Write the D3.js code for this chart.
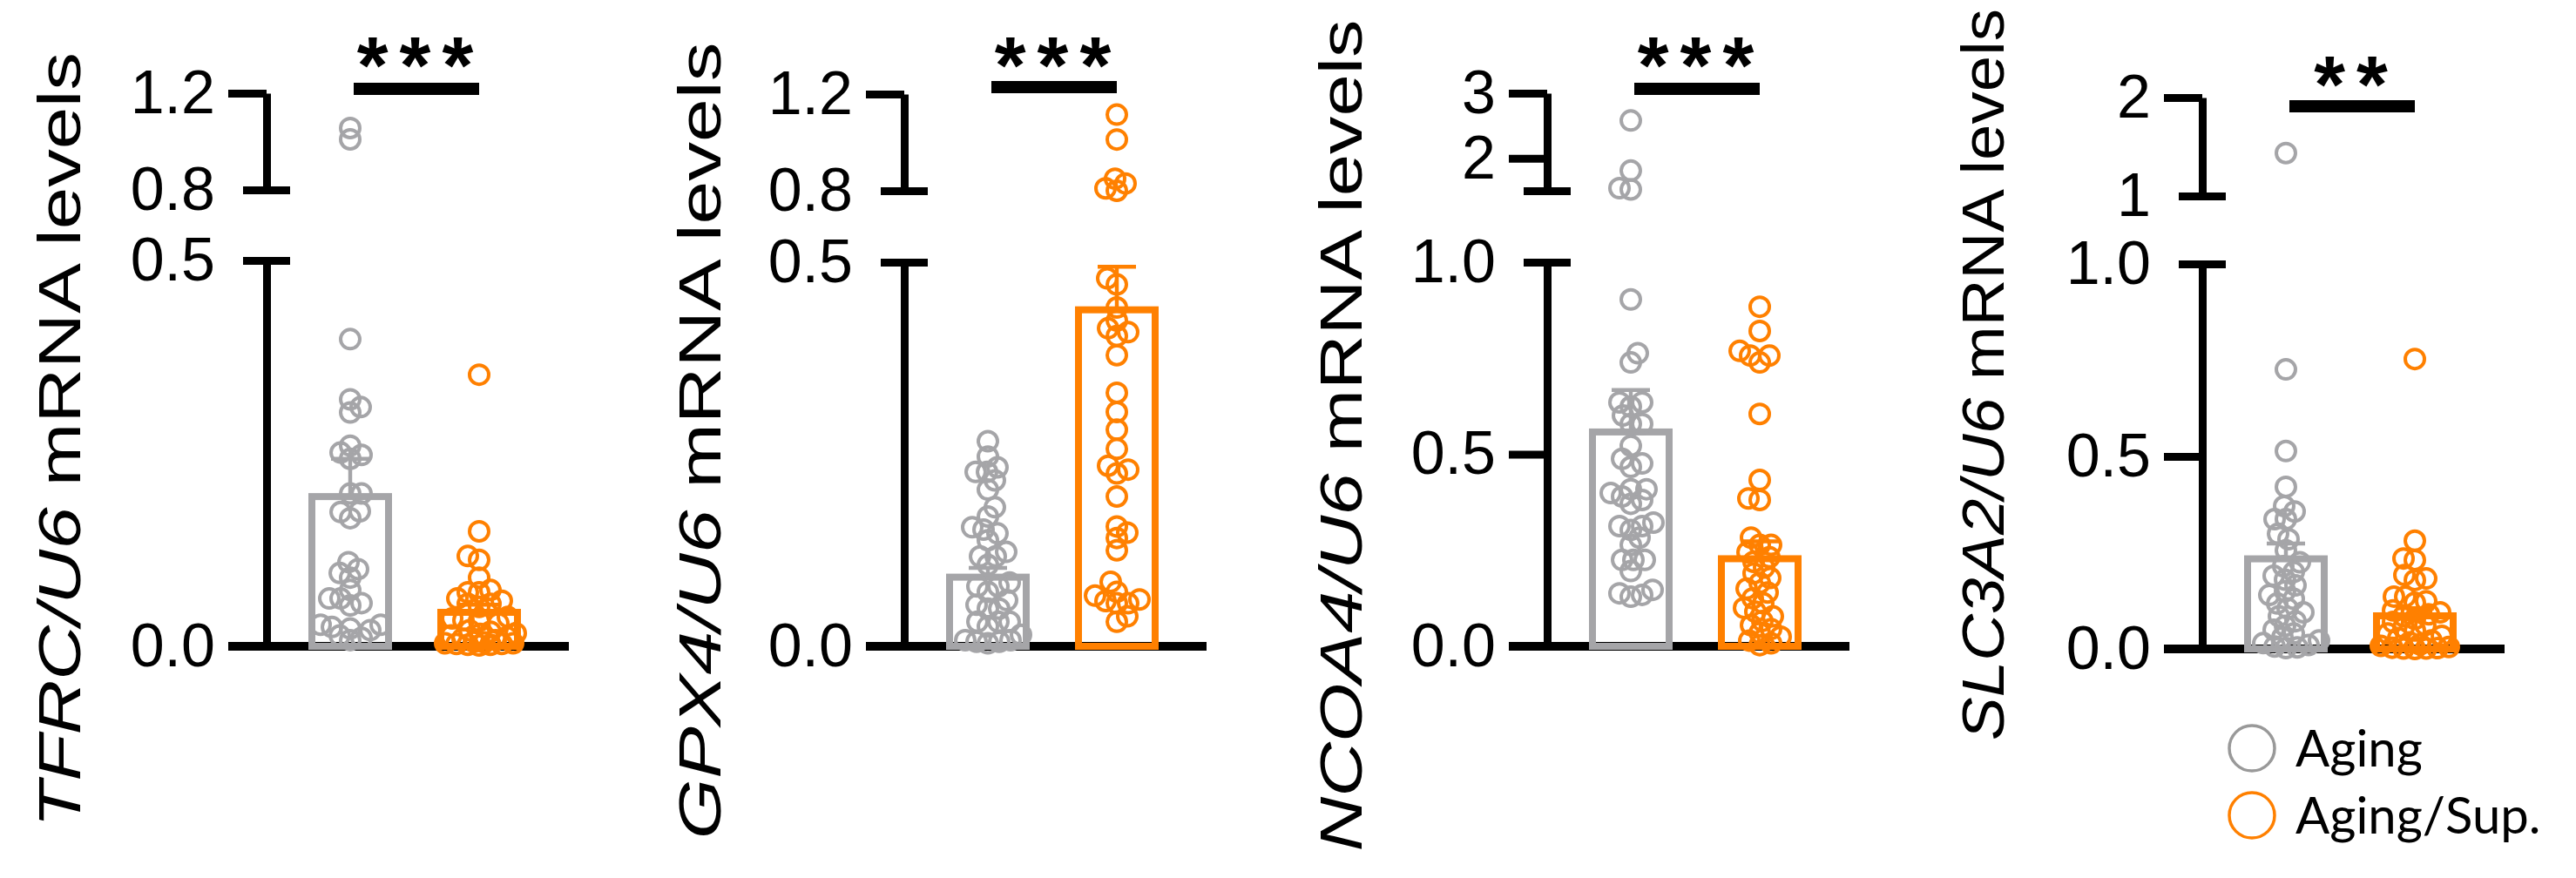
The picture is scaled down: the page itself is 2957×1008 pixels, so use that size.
<!DOCTYPE html>
<html>
<head>
<meta charset="utf-8">
<script src="https://cdn.jsdelivr.net/npm/d3@7"></script>
<style>
  body { margin: 0; background: #fff; }
  svg { display: block; }
</style>
</head>
<body>
<script>
// groups and genes
var groups = ["Aging", "Aging/Sup."];
var genes = ["TFRC", "GPX4", "NCOA4", "SLC3A2"];
var stars = ["***", "***", "***", "**"];

// individual points
var agingTFRC = [1.056, 1.009, 0.398, 0.320, 0.310, 0.303, 0.260, 0.248, 0.251, 0.243, 0.198, 0.198, 0.174, 0.175, 0.166,
  0.109, 0.100, 0.095, 0.089, 0.073, 0.062, 0.056, 0.062, 0.053, 0.025, 0.021, 0.028, 0.023, 0.028, 0.014, 0.011, 0.008];
var supTFRC = [0.352, 0.149, 0.112, 0.117, 0.089, 0.070, 0.073, 0.070, 0.062, 0.055, 0.059, 0.055, 0.051, 0.036, 0.033,
  0.038, 0.034, 0.030, 0.019, 0.016, 0.021, 0.017, 0.014, 0.008, 0.006, 0.005, 0.004, 0.003, 0.002, 0.010, 0.012, 0.004,
  0.002, 0.001, 0.003];
var agingGPX4 = [0.267, 0.247, 0.227, 0.227, 0.233, 0.204, 0.216, 0.181, 0.169, 0.152, 0.147, 0.138, 0.155, 0.117, 0.123,
  0.117, 0.106, 0.078, 0.083, 0.071, 0.078, 0.054, 0.049, 0.060, 0.049, 0.032, 0.032, 0.026, 0.032, 0.008, 0.008, 0.006,
  0.006, 0.004, 0.015];
var supGPX4 = [1.115, 1.012, 0.85, 0.83, 0.81, 0.80, 0.479, 0.471, 0.441, 0.424, 0.414, 0.404, 0.409, 0.379, 0.330, 0.305,
  0.282, 0.257, 0.225, 0.230, 0.235, 0.195, 0.156, 0.141, 0.148, 0.125, 0.084, 0.056, 0.056, 0.059, 0.066, 0.061, 0.071,
  0.039, 0.032];
var agingNCOA4 = [2.58, 1.81, 1.54, 1.52, 0.903, 0.763, 0.739, 0.635, 0.624, 0.635, 0.601, 0.579, 0.579, 0.522, 0.488,
  0.476, 0.467, 0.409, 0.399, 0.409, 0.390, 0.381, 0.371, 0.313, 0.313, 0.322, 0.303, 0.283, 0.264, 0.225, 0.225, 0.225,
  0.196, 0.138, 0.129, 0.134, 0.147];
var supNCOA4 = [0.884, 0.821, 0.769, 0.757, 0.757, 0.739, 0.605, 0.433, 0.385, 0.381, 0.283, 0.264, 0.264, 0.245, 0.232,
  0.220, 0.205, 0.190, 0.178, 0.165, 0.150, 0.140, 0.125, 0.112, 0.100, 0.090, 0.078, 0.066, 0.055, 0.045, 0.035, 0.025,
  0.015, 0.008, 0.003];
var agingSLC3A2 = [1.436, 0.726, 0.514, 0.421, 0.371, 0.357, 0.337, 0.337, 0.285, 0.299, 0.256, 0.225, 0.215, 0.200, 0.190,
  0.180, 0.165, 0.150, 0.140, 0.130, 0.118, 0.105, 0.095, 0.085, 0.072, 0.060, 0.050, 0.040, 0.030, 0.022, 0.015, 0.010,
  0.006, 0.004, 0.002];
var supSLC3A2 = [0.753, 0.281, 0.231, 0.235, 0.192, 0.183, 0.179, 0.136, 0.136, 0.124, 0.120, 0.100, 0.095, 0.090, 0.085,
  0.078, 0.070, 0.062, 0.055, 0.048, 0.040, 0.034, 0.028, 0.022, 0.017, 0.012, 0.008, 0.005, 0.003, 0.002, 0.001, 0.001, 0.000];

// bar heights (mean) and error bars (SEM)
var meanAging = [0.194, 0.090, 0.558, 0.234];
var meanSup = [0.044, 0.438, 0.228, 0.086];
var semAging = [0.049, 0.012, 0.109, 0.040];
var semSup = [0.010, 0.056, 0.045, 0.020];

// broken y axis: lower and upper segments
var lowDomain = [[0, 0.5], [0, 0.5], [0, 1.0], [0, 1.0]];
var highDomain = [[0.8, 1.2], [0.8, 1.2], [1.5, 3], [1, 2]];
var lowTicks = [[0, 0.5], [0, 0.5], [0, 0.5, 1.0], [0, 0.5, 1.0]];
var lowLabels = [["0.0", "0.5"], ["0.0", "0.5"], ["0.0", "0.5", "1.0"], ["0.0", "0.5", "1.0"]];
var highTicks = [[0.8, 1.2], [0.8, 1.2], [1.5, 2, 3], [1, 2]];
var highLabels = [["0.8", "1.2"], ["0.8", "1.2"], ["", "2", "3"], ["1", "2"]];

var series = [[agingTFRC, supTFRC], [agingGPX4, supGPX4], [agingNCOA4, supNCOA4], [agingSLC3A2, supSLC3A2]];

var width = 2957, height = 1008;
var colors = ["#a5a5a8", "#ff8000"];

// panel layout (pixels)
var layout = [
  {ax: 306, y0: 742, yLow: 299, yHb: 218, yHt: 107, tx: 92, ty: 505, tl: 890, sigY: 102, starY: 107},
  {ax: 1038, y0: 742, yLow: 301, yHb: 219, yHt: 108, tx: 827, ty: 506, tl: 915, sigY: 100, starY: 107},
  {ax: 1776, y0: 742, yLow: 301, yHb: 219, yHt: 107, tx: 1563, ty: 500, tl: 955, sigY: 102, starY: 107},
  {ax: 2528, y0: 745, yLow: 303, yHb: 225, yHt: 112, tx: 2300, ty: 430, tl: 840, sigY: 122, starY: 129}
];

var svg = d3.select("body").append("svg")
    .attr("width", width)
    .attr("height", height);

svg.append("rect").attr("width", width).attr("height", height).attr("fill", "#fff");

// simple beeswarm: spread points sideways so circles don't pile up
function swarm(vals, yFn, minD, maxSpread) {
  var pts = vals.map(function (v) { return {v: v, y: yFn(v)}; })
    .sort(function (a, b) { return b.y - a.y; });
  var placed = [];
  pts.forEach(function (p, n) {
    var best = 0, bestScore = -1, done = false;
    for (var k = 0; k <= maxSpread && !done; k++) {
      var cands = k === 0 ? [0] : (n % 2 ? [k, -k] : [-k, k]);
      for (var c = 0; c < cands.length; c++) {
        var s = cands[c], md = Infinity;
        placed.forEach(function (q) {
          var d = Math.hypot(q.dx - s, q.y - p.y);
          if (d < md) md = d;
        });
        if (md >= minD) { best = s; done = true; break; }
        if (md > bestScore) { bestScore = md; best = s; }
      }
    }
    p.dx = best;
    placed.push(p);
  });
  return placed;
}

genes.forEach(function (gene, i) {
  var L = layout[i];
  var g = svg.append("g");

  var yLowS = d3.scaleLinear().domain(lowDomain[i]).range([L.y0, L.yLow]);
  var yHighS = d3.scaleLinear().domain(highDomain[i]).range([L.yHb, L.yHt]);
  var yPos = function (v) { return v <= lowDomain[i][1] ? yLowS(v) : yHighS(v); };

  var x = d3.scalePoint().domain(groups).range([L.ax + 96, L.ax + 244]);

  // x baseline
  g.append("line")
    .attr("x1", L.ax - 44).attr("x2", L.ax + 347)
    .attr("y1", L.y0).attr("y2", L.y0)
    .attr("stroke", "#000").attr("stroke-width", 10);

  // y axis, two segments
  var axLow = d3.axisLeft(yLowS).tickValues(lowTicks[i])
    .tickFormat(function (d, j) { return lowLabels[i][j]; })
    .tickSize(44).tickSizeOuter(0).tickPadding(15);
  var axHigh = d3.axisLeft(yHighS).tickValues(highTicks[i])
    .tickFormat(function (d, j) { return highLabels[i][j]; })
    .tickSize(44).tickSizeOuter(0).tickPadding(15);

  [[axLow, lowDomain[i][1]], [axHigh, highDomain[i][0]]].forEach(function (a) {
    var ag = g.append("g").attr("transform", "translate(" + L.ax + ",0)").call(a[0]);
    ag.select(".domain").attr("stroke", "#000").attr("stroke-width", 9);
    ag.selectAll(".tick line").attr("stroke", "#000").attr("stroke-width", 9);
    // ticks at the break cross the axis
    ag.selectAll(".tick").filter(function (d) { return d === a[1]; })
      .select("line").attr("x1", -27).attr("x2", 27);
    ag.selectAll(".tick text")
      .attr("fill", "#000")
      .style("font-family", "'Liberation Sans', Arial, sans-serif")
      .style("font-size", "70px");
  });

  // bars + error bars
  var means = [meanAging[i], meanSup[i]];
  var sems = [semAging[i], semSup[i]];
  groups.forEach(function (grp, k) {
    var cx = x(grp);
    g.append("rect")
      .attr("x", cx - 44).attr("width", 88)
      .attr("y", yPos(means[k])).attr("height", L.y0 - yPos(means[k]))
      .attr("fill", "none").attr("stroke", colors[k]).attr("stroke-width", 8);
    var yTop = yPos(means[k] + sems[k]);
    g.append("line")
      .attr("x1", cx).attr("x2", cx).attr("y1", yPos(means[k])).attr("y2", yTop)
      .attr("stroke", colors[k]).attr("stroke-width", 4.5);
    g.append("line")
      .attr("x1", cx - 22).attr("x2", cx + 22).attr("y1", yTop).attr("y2", yTop)
      .attr("stroke", colors[k]).attr("stroke-width", 4.5);
  });

  // points
  groups.forEach(function (grp, k) {
    var cx = x(grp);
    var pts = swarm(series[i][k], yPos, 13, 42);
    g.append("g").selectAll("circle")
      .data(pts)
      .enter().append("circle")
      .attr("cx", function (d) { return cx + d.dx; })
      .attr("cy", function (d) { return d.y; })
      .attr("r", 11)
      .attr("fill", "none")
      .attr("stroke", colors[k])
      .attr("stroke-width", 4);
  });

  // significance
  g.append("line")
    .attr("x1", x(groups[0]) + 4).attr("x2", x(groups[1]))
    .attr("y1", L.sigY).attr("y2", L.sigY)
    .attr("stroke", "#000").attr("stroke-width", 14);
  g.append("text")
    .attr("x", (x(groups[0]) + x(groups[1])) / 2 + 7)
    .attr("y", L.starY)
    .attr("text-anchor", "middle")
    .style("font-family", "'Liberation Sans', Arial, sans-serif")
    .style("font-weight", "bold")
    .style("font-size", "92px")
    .style("letter-spacing", "13px")
    .text(stars[i]);

  // y title: italic gene name, stretched to the length in the figure
  var title = g.append("text")
    .attr("text-anchor", "middle")
    .style("font-family", "'Liberation Sans', Arial, sans-serif")
    .style("font-size", "68px");
  title.append("tspan").style("font-style", "italic").text(gene + "/U6");
  title.append("tspan").text(" mRNA levels");
  var len = title.node().getComputedTextLength();
  title.attr("transform", "translate(" + L.tx + "," + L.ty + ") rotate(-90) scale(" + (L.tl / len) + ",1)");
});

// legend
var legend = svg.append("g").attr("transform", "translate(2585,859)");
groups.forEach(function (grp, k) {
  var row = legend.append("g").attr("transform", "translate(0," + (k * 77) + ")");
  row.append("circle").attr("r", 26).attr("fill", "none")
    .attr("stroke", k === 0 ? "#999999" : colors[1]).attr("stroke-width", 3.5);
  row.append("text").attr("x", 50).attr("y", 21)
    .style("font-family", "Lato, 'Open Sans', sans-serif")
    .style("font-size", "58px")
    .text(grp);
});
</script>
</body>
</html>
